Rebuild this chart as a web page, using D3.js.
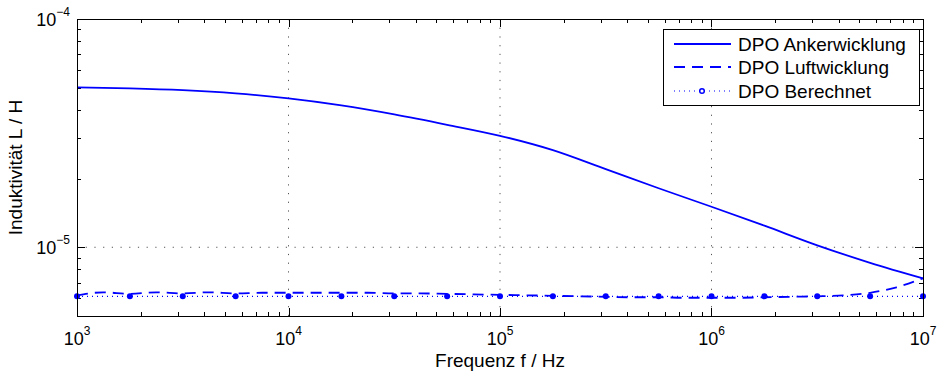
<!DOCTYPE html>
<html>
<head>
<meta charset="utf-8">
<script src="https://cdn.jsdelivr.net/npm/d3@7"></script>
<style>
  body { margin: 0; background: #fff; }
  text { font-family: "Liberation Sans", Arial, sans-serif; fill: #000; }
</style>
</head>
<body>
<div id="chart"></div>
<script>
// frequency exponents (log10 f) of the samples
let ankerExp = [3, 3.25, 3.5, 3.75, 4, 4.25, 4.5, 4.75, 5, 5.25, 5.5, 5.75, 6, 6.25, 6.5, 6.75, 7];
let ankerL = [5.016e-5, 4.967e-5, 4.877e-5, 4.721e-5, 4.489e-5, 4.182e-5, 3.820e-5, 3.441e-5, 3.077e-5,
  2.663e-5, 2.198e-5, 1.814e-5, 1.505e-5, 1.243e-5, 1.020e-5, 8.55e-6, 7.31e-6];

let luftExp = [3, 3.125, 3.25, 3.375, 3.5, 3.625, 3.75, 3.875, 4, 4.125, 4.25, 4.375, 4.5, 4.625, 4.75, 4.875,
  5, 5.125, 5.25, 5.375, 5.5, 5.625, 5.75, 5.875, 6, 6.125, 6.25, 6.375, 6.5, 6.625, 6.75, 6.875, 7];
let luftL = [6.16e-6, 6.35e-6, 6.25e-6, 6.35e-6, 6.28e-6, 6.35e-6, 6.28e-6, 6.32e-6, 6.32e-6, 6.32e-6,
  6.32e-6, 6.32e-6, 6.28e-6, 6.28e-6, 6.25e-6, 6.22e-6, 6.19e-6, 6.16e-6, 6.13e-6, 6.10e-6, 6.07e-6,
  6.04e-6, 6.04e-6, 6.01e-6, 6.01e-6, 6.01e-6, 6.04e-6, 6.07e-6, 6.10e-6, 6.16e-6, 6.32e-6, 6.68e-6, 7.31e-6];

let berExp = [3, 3.25, 3.5, 3.75, 4, 4.25, 4.5, 4.75, 5, 5.25, 5.5, 5.75, 6, 6.25, 6.5, 6.75, 7];
let berL = [6.1e-6, 6.1e-6, 6.1e-6, 6.1e-6, 6.1e-6, 6.1e-6, 6.1e-6, 6.1e-6, 6.1e-6,
  6.1e-6, 6.1e-6, 6.1e-6, 6.1e-6, 6.1e-6, 6.1e-6, 6.1e-6, 6.1e-6];

let xMajor = [3, 4, 5, 6, 7];
let yMajor = [-5, -4];
let legendLabels = ["DPO Ankerwicklung", "DPO Luftwicklung", "DPO Berechnet"];

let width = 944, height = 374;
let margins = { left: 77, right: 21, top: 19, bottom: 58 };
let blue = "#0000ff";

let svg = d3.select("#chart").append("svg").attr("width", width).attr("height", height);

let x = d3.scaleLog().domain([1e3, 1e7]).range([margins.left, width - margins.right]);
let y = d3.scaleLog().domain([5e-6, 1e-4]).range([height - margins.bottom, margins.top]);

let x0 = x.range()[0], x1 = x.range()[1], y0 = y.range()[0], y1 = y.range()[1];

// grid
let grid = svg.append("g").attr("stroke", "#555").attr("stroke-width", 1).attr("stroke-dasharray", "1.2,7.5");
xMajor.filter(function(e) { return e > 3 && e < 7; }).forEach(function(e) {
  grid.append("line").attr("x1", x(Math.pow(10, e))).attr("x2", x(Math.pow(10, e)))
    .attr("y1", y0).attr("y2", y1);
});
grid.append("line").attr("x1", x0).attr("x2", x1).attr("y1", y(1e-5)).attr("y2", y(1e-5));

// ticks (inside, on all four sides)
let ticks = svg.append("g").attr("stroke", "#000").attr("stroke-width", 1);
x.ticks().forEach(function(v) {
  let major = Math.abs(Math.log10(v) - Math.round(Math.log10(v))) < 1e-9;
  let len = major ? 8 : 4;
  let px = Math.round(x(v)) + 0.5;
  ticks.append("line").attr("x1", px).attr("x2", px).attr("y1", y0).attr("y2", y0 - len);
  ticks.append("line").attr("x1", px).attr("x2", px).attr("y1", y1).attr("y2", y1 + len);
});
y.ticks().forEach(function(v) {
  let major = Math.abs(Math.log10(v) - Math.round(Math.log10(v))) < 1e-9;
  let len = major ? 8 : 4;
  let py = Math.round(y(v)) + 0.5;
  ticks.append("line").attr("x1", x0).attr("x2", x0 + len).attr("y1", py).attr("y2", py);
  ticks.append("line").attr("x1", x1).attr("x2", x1 - len).attr("y1", py).attr("y2", py);
});

// tick labels
xMajor.forEach(function(e) {
  let t = svg.append("text").attr("x", x(Math.pow(10, e))).attr("y", 345)
    .attr("text-anchor", "middle").style("font-size", "18px");
  t.append("tspan").text("10");
  t.append("tspan").attr("dy", -10).style("font-size", "12px").text(e);
});
yMajor.forEach(function(e) {
  let t = svg.append("text").attr("x", 70).attr("y", y(Math.pow(10, e)) + 7)
    .attr("text-anchor", "end").style("font-size", "18px");
  t.append("tspan").text("10");
  t.append("tspan").attr("dy", -10).style("font-size", "12px").text("\u2212" + (-e));
});

// axis titles
svg.append("text").attr("x", (x0 + x1) / 2).attr("y", 367).attr("text-anchor", "middle")
  .style("font-size", "19px").text("Frequenz f / Hz");
svg.append("text").attr("transform", "translate(22," + ((y0 + y1) / 2) + ") rotate(-90)")
  .attr("text-anchor", "middle").style("font-size", "19px").text("Induktivität L / H");

// series
let line = d3.line()
  .x(function(d) { return x(Math.pow(10, d[0])); })
  .y(function(d) { return y(d[1]); });

let plot = svg.append("g");
plot.append("path").datum(d3.zip(ankerExp, ankerL)).attr("d", line.curve(d3.curveMonotoneX))
  .attr("fill", "none").attr("stroke", blue).attr("stroke-width", 1.8);
plot.append("path").datum(d3.zip(berExp, berL)).attr("d", line.curve(d3.curveLinear))
  .attr("fill", "none").attr("stroke", blue).attr("stroke-width", 1.2).attr("stroke-dasharray", "1,4");
plot.append("path").datum(d3.zip(luftExp, luftL)).attr("d", line.curve(d3.curveMonotoneX))
  .attr("fill", "none").attr("stroke", blue).attr("stroke-width", 1.8).attr("stroke-dasharray", "11,7");
plot.selectAll("circle").data(d3.zip(berExp, berL)).enter().append("circle")
  .attr("cx", function(d) { return x(Math.pow(10, d[0])); })
  .attr("cy", function(d) { return y(d[1]); })
  .attr("r", 3).attr("fill", blue);

// axes box
svg.append("rect").attr("x", x0 + 0.5).attr("y", y1 + 0.5)
  .attr("width", x1 - x0).attr("height", y0 - y1)
  .attr("fill", "none").attr("stroke", "#000").attr("stroke-width", 1);

// legend
let lg = svg.append("g");
lg.append("rect").attr("x", 663.5).attr("y", 29.5).attr("width", 256).attr("height", 76)
  .attr("fill", "#fff").attr("stroke", "#000").attr("stroke-width", 1);
let rowY = [44, 67, 91];
let dashes = [null, "11,7", "1,4"];
legendLabels.forEach(function(label, i) {
  let l = lg.append("line").attr("x1", 674).attr("x2", 731).attr("y1", rowY[i]).attr("y2", rowY[i])
    .attr("stroke", blue).attr("stroke-width", i == 2 ? 1.2 : 1.8);
  if (dashes[i]) l.attr("stroke-dasharray", dashes[i]);
  lg.append("text").attr("x", 738).attr("y", rowY[i] + 7).style("font-size", "19px").text(label);
});
lg.append("circle").attr("cx", 702).attr("cy", rowY[2]).attr("r", 2.3)
  .attr("fill", "#fff").attr("stroke", blue).attr("stroke-width", 1.5);
</script>
</body>
</html>
